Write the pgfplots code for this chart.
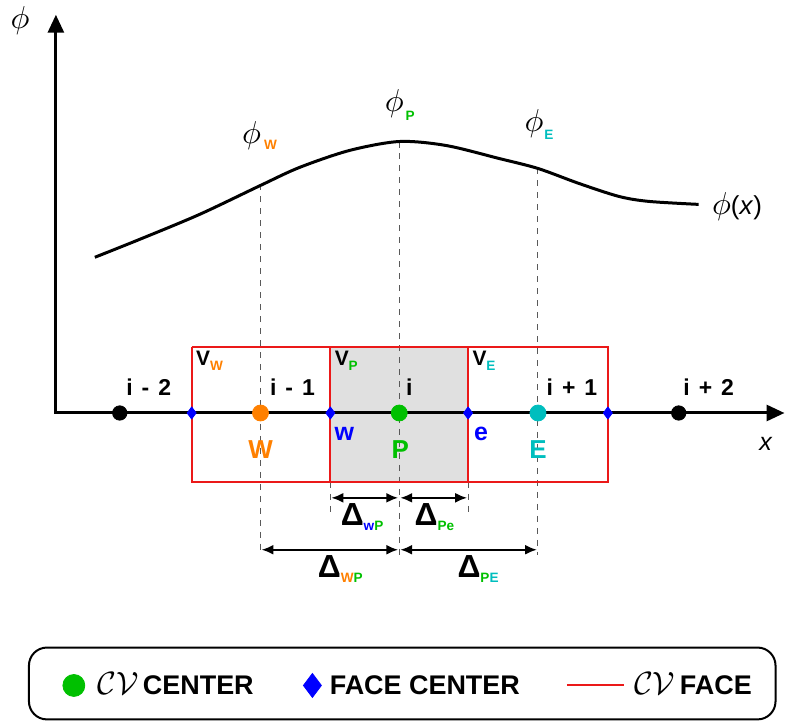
\documentclass[border=0pt]{standalone}
\usepackage{pgfplots}
\pgfplotsset{compat=1.18}
\usepackage{fontspec}
\setmainfont{Liberation Sans}
\usetikzlibrary{arrows.meta}
\definecolor{cgreen}{RGB}{0,192,0}
\definecolor{corange}{RGB}{255,128,0}
\definecolor{ccyan}{RGB}{0,190,190}
\definecolor{cblue}{RGB}{0,0,255}
\definecolor{cred}{RGB}{235,25,25}
\definecolor{cgray}{RGB}{224,224,224}
\newcommand{\sub}[2]{\raisebox{-2.5pt}{\fontsize{6.8}{8}\selectfont\bfseries\textcolor{#1}{#2}}}
\newcommand{\lab}[1]{{\fontsize{11.5}{13}\selectfont\bfseries #1}}
\newcommand{\phis}{\scalebox{1.45}{\fontsize{11}{13}\selectfont$\phi$}}
\newcommand{\dlt}{{\fontsize{16}{18}\selectfont\bfseries Δ}}
\newcommand{\cv}{\scalebox{1.12}{$\mathcal{CV}$}}
\begin{document}
\begin{tikzpicture}
\begin{axis}[
  x=0.5pt, y=0.5pt, y dir=reverse,
  xmin=0, xmax=786, ymin=0, ymax=722,
  hide axis, clip=false, scale only axis,
]
% frame extent (invisible)
\addplot[draw=none, forget plot] coordinates {(0,0) (786,722)};
% gray control volume
\addplot[fill=cgray, draw=none] coordinates {(331,347) (469,347) (469,482) (331,482) (331,347)};
% dashed guide lines
\addplot[gray!70!black, dashed, line width=0.5pt] coordinates {(261,184) (261,555)};
\addplot[gray!70!black, dashed, line width=0.5pt] coordinates {(400,141) (400,555)};
\addplot[gray!70!black, dashed, line width=0.5pt] coordinates {(539,168) (539,555)};
\addplot[gray!70!black, dashed, line width=0.5pt] coordinates {(331,482) (331,515)};
\addplot[gray!70!black, dashed, line width=0.5pt] coordinates {(469,482) (469,515)};
% red CV faces
\addplot[cred, line width=1pt] coordinates {(192,347) (609,347) (609,482) (192,482) (192,347)};
\addplot[cred, line width=1pt] coordinates {(331,347) (331,482)};
\addplot[cred, line width=1pt] coordinates {(469,347) (469,482)};
% axes
\addplot[black, line width=1.5pt, {Triangle[length=9pt,width=8pt]}-{Triangle[length=9pt,width=8pt]}] coordinates {(56,14) (56,413) (786,413)};
% curve phi(x)
\addplot[black, line width=1.5pt, smooth] coordinates {
(95,257) (140,239) (200,214) (261,185) (300,167) (350,150) (400,141) (447,145)
(500,158) (539,168) (580,183) (620,196) (650,201) (700,204)};
% nodes
\addplot[only marks, mark=*, mark size=3.6pt, black] coordinates {(120,413) (680,413)};
\addplot[only marks, mark=*, mark size=4pt, corange] coordinates {(261,413)};
\addplot[only marks, mark=*, mark size=4pt, cgreen] coordinates {(400,413)};
\addplot[only marks, mark=*, mark size=4pt, ccyan] coordinates {(539,413)};
\addplot[only marks, mark=diamond*, mark size=3pt, cblue] coordinates {(192,413) (331,413) (469,413) (609,413)};
% distance arrows
\addplot[black, line width=1pt, {Latex[length=6pt,width=5pt]}-{Latex[length=6pt,width=5pt]}] coordinates {(332,498) (399,498)};
\addplot[black, line width=1pt, {Latex[length=6pt,width=5pt]}-{Latex[length=6pt,width=5pt]}] coordinates {(401,498) (468,498)};
\addplot[black, line width=1pt, {Latex[length=6pt,width=5pt]}-{Latex[length=6pt,width=5pt]}] coordinates {(262,550) (399,550)};
\addplot[black, line width=1pt, {Latex[length=6pt,width=5pt]}-{Latex[length=6pt,width=5pt]}] coordinates {(401,550) (538,550)};
% legend markers
\addplot[only marks, mark=*, mark size=5.5pt, cgreen] coordinates {(74,686)};
\addplot[only marks, mark=diamond*, mark size=6pt, cblue] coordinates {(313,686)};
\addplot[cred, line width=1pt] coordinates {(568,686) (625,686)};

% text labels
\node at (axis cs:20,20) {\phis};
\node[anchor=center, inner sep=0pt] at (axis cs:767,444) {\fontsize{12.5}{14}\selectfont\itshape x};
\node[anchor=west, inner sep=0pt] at (axis cs:713,206) {\phis\fontsize{13}{14}\selectfont(\textit{x})};
\node[inner sep=0pt] at (axis cs:252,135) {\phis};
\node[inner sep=0pt] at (axis cs:271,144) {\sub{corange}{W}};
\node[inner sep=0pt] at (axis cs:395,103) {\phis};
\node[inner sep=0pt] at (axis cs:411,115) {\sub{cgreen}{P}};
\node[inner sep=0pt] at (axis cs:535,123) {\phis};
\node[inner sep=0pt] at (axis cs:550,134) {\sub{ccyan}{E}};

\node at (axis cs:149,387) {\lab{i\hspace{4.5pt}-\hspace{4.5pt}2}};
\node at (axis cs:293,387) {\lab{i\hspace{4.5pt}-\hspace{4.5pt}1}};
\node at (axis cs:410,387) {\lab{i}};
\node at (axis cs:573,387) {\lab{i\hspace{4.5pt}+\hspace{4.5pt}1}};
\node at (axis cs:710,387) {\lab{i\hspace{4.5pt}+\hspace{4.5pt}2}};

\node[anchor=west, inner sep=0pt] at (axis cs:196,361) {\fontsize{10.5}{12}\selectfont\bfseries V\sub{corange}{W}};
\node[anchor=west, inner sep=0pt] at (axis cs:335,361) {\fontsize{10.5}{12}\selectfont\bfseries V\sub{cgreen}{P}};
\node[anchor=west, inner sep=0pt] at (axis cs:473,361) {\fontsize{10.5}{12}\selectfont\bfseries V\sub{ccyan}{E}};

\node at (axis cs:345,434) {\fontsize{12.5}{14}\selectfont\bfseries\color{cblue}w};
\node at (axis cs:482,434) {\fontsize{12.5}{14}\selectfont\bfseries\color{cblue}e};
\node at (axis cs:261,450) {\fontsize{13}{14}\selectfont\bfseries\color{corange}W};
\node at (axis cs:401,450) {\fontsize{13}{14}\selectfont\bfseries\color{cgreen}P};
\node at (axis cs:539,450) {\fontsize{13}{14}\selectfont\bfseries\color{ccyan}E};

\node[anchor=base west, inner sep=0pt] at (axis cs:341,526) {\dlt\sub{cblue}{w}\sub{cgreen}{P}};
\node[anchor=base west, inner sep=0pt] at (axis cs:415,526) {\dlt\sub{cgreen}{Pe}};
\node[anchor=base west, inner sep=0pt] at (axis cs:318,578) {\dlt\sub{corange}{W}\sub{cgreen}{P}};
\node[anchor=base west, inner sep=0pt] at (axis cs:458,578) {\dlt\sub{cgreen}{P}\sub{ccyan}{E}};

% legend box
\draw[black, line width=1pt, rounded corners=9pt] (axis cs:29,648) rectangle (axis cs:777,720);
\node[anchor=base west, inner sep=0pt] at (axis cs:97,695) {\fontsize{13.5}{15}\selectfont\cv\,\bfseries CENTER};
\node[anchor=base west, inner sep=0pt] at (axis cs:330,695) {\fontsize{13.5}{15}\selectfont\bfseries FACE CENTER};
\node[anchor=base west, inner sep=0pt] at (axis cs:635,695) {\fontsize{13.5}{15}\selectfont\cv\,\bfseries FACE};
\end{axis}
\end{tikzpicture}
\end{document}
